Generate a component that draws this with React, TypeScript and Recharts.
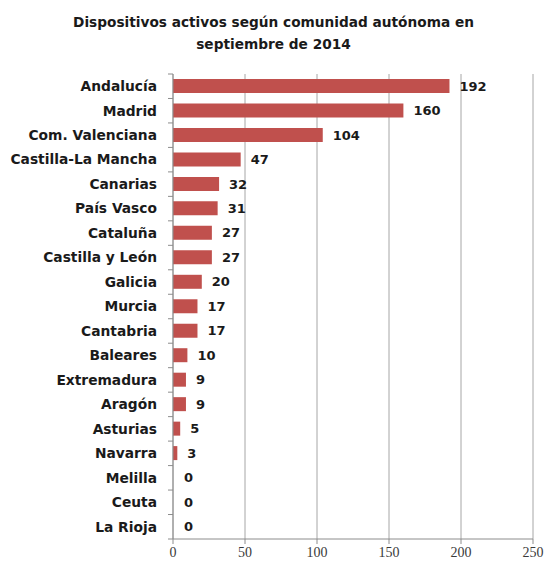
import { BarChart, Bar, XAxis, YAxis, CartesianGrid, LabelList, Cell } from "recharts";

const regions = [
  "Andalucía",
  "Madrid",
  "Com. Valenciana",
  "Castilla-La Mancha",
  "Canarias",
  "País Vasco",
  "Cataluña",
  "Castilla y León",
  "Galicia",
  "Murcia",
  "Cantabria",
  "Baleares",
  "Extremadura",
  "Aragón",
  "Asturias",
  "Navarra",
  "Melilla",
  "Ceuta",
  "La Rioja",
];

const devices = [192, 160, 104, 47, 32, 31, 27, 27, 20, 17, 17, 10, 9, 9, 5, 3, 0, 0, 0];

const xTicks = [0, 50, 100, 150, 200, 250];

const data = regions.map((name, i) => ({ name, count: devices[i] }));

const W = 547;
const H = 562;
const TOP = 74;
const XAXIS_H = 23;
const band = (H - TOP - XAXIS_H) / data.length;

const CategoryTick = (props: any) => {
  const { x, y, payload, index } = props;
  const last = index === data.length - 1;
  return (
    <g>
      <line x1={x + 11} x2={x + 16} y1={y - band / 2} y2={y - band / 2} stroke="#8c8c8c" />
      {last && <line x1={x + 11} x2={x + 16} y1={y + band / 2} y2={y + band / 2} stroke="#8c8c8c" />}
      <text
        x={x}
        y={y}
        dy="0.35em"
        textAnchor="end"
        fontFamily="DejaVu Sans"
        fontWeight="bold"
        fontSize={13.8}
        fill="#1a1a1a"
      >
        {payload.value}
      </text>
    </g>
  );
};

export default function App() {
  return (
    <div style={{ position: "absolute", left: 0, top: 0, width: W, height: H, background: "#fff" }}>
      <div
        style={{
          position: "absolute",
          top: 11,
          left: 0,
          width: W,
          textAlign: "center",
          fontFamily: "DejaVu Sans",
          fontWeight: "bold",
          fontSize: 13.7,
          lineHeight: "22px",
          color: "#1a1a1a",
        }}
      >
        Dispositivos activos según comunidad autónoma en
        <br />
        septiembre de 2014
      </div>
      <BarChart
        width={W}
        height={H}
        data={data}
        layout="vertical"
        margin={{ top: TOP, right: 14, bottom: 0, left: 0 }}
      >
        <CartesianGrid horizontal={false} stroke="#a6a6a6" />
        <XAxis
          type="number"
          domain={[0, 250]}
          ticks={xTicks}
          height={XAXIS_H}
          tickSize={5}
          tickMargin={3}
          stroke="#8c8c8c"
          tick={{ fontFamily: "Liberation Serif", fontSize: 14, fill: "#3a3a3a" }}
        />
        <YAxis
          type="category"
          dataKey="name"
          width={173}
          tickLine={false}
          tickMargin={10}
          stroke="#8c8c8c"
          interval={0}
          tick={<CategoryTick />}
        />
        <Bar dataKey="count" fill="#c0504d" barSize={14} minPointSize={1} isAnimationActive={false}>
          {data.map((d, i) => (
            <Cell key={`cell-${i}`} fill={d.count === 0 ? "transparent" : "#c0504d"} />
          ))}
          <LabelList
            dataKey="count"
            position="right"
            offset={10}
            fontFamily="DejaVu Sans"
            fontWeight="bold"
            fontSize={13}
            fill="#1a1a1a"
          />
        </Bar>
      </BarChart>
    </div>
  );
}
